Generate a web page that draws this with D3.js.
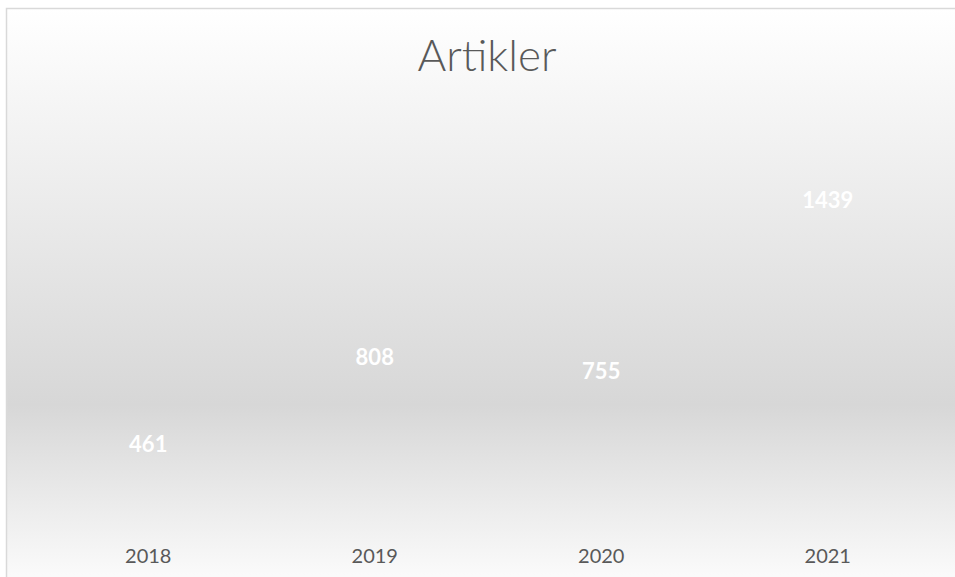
<!DOCTYPE html>
<html>
<head>
<meta charset="utf-8">
<script src="https://cdn.jsdelivr.net/npm/d3@7/dist/d3.min.js"></script>
<style>
  html, body { margin: 0; padding: 0; background: #ffffff; }
  svg { display: block; }
</style>
</head>
<body>
<svg id="chart" width="955" height="577"></svg>
<script>
// Data
const title = "Artikler";
const categories = ["2018", "2019", "2020", "2021"];
const values = [461, 808, 755, 1439];

const W = 955, H = 577;
const svg = d3.select("#chart");

// Background gradient
const defs = svg.append("defs");
const grad = defs.append("linearGradient")
  .attr("id", "bg")
  .attr("gradientUnits", "userSpaceOnUse")
  .attr("x1", 0).attr("y1", 8).attr("x2", 0).attr("y2", 575);
grad.append("stop").attr("offset", 0).attr("stop-color", "#ffffff");
grad.append("stop").attr("offset", 0.70).attr("stop-color", "#d7d7d7");
grad.append("stop").attr("offset", 1).attr("stop-color", "#fafafa");

svg.append("rect")
  .attr("x", 6.5).attr("y", 8.5)
  .attr("width", W + 20).attr("height", H + 20)
  .attr("fill", "url(#bg)")
  .attr("stroke", "#d9d9d9")
  .attr("stroke-width", 1.5);

// Scales
const x = d3.scaleBand().domain(categories).range([35, 941]).padding(0);
const y = d3.scaleLinear().domain([0, 1600]).range([567, 167.8]);

// Title
svg.append("text")
  .attr("x", 487).attr("y", 71)
  .attr("text-anchor", "middle")
  .attr("font-family", "Lato, 'Open Sans', sans-serif")
  .attr("font-weight", 300)
  .attr("font-size", 44)
  .attr("fill", "#595959")
  .text(title);

// Invisible bars (no fill in the reference)
svg.append("g").selectAll("rect")
  .data(values)
  .join("rect")
  .attr("x", (d, i) => x(categories[i]) + x.bandwidth() * 0.25)
  .attr("width", x.bandwidth() * 0.5)
  .attr("y", d => y(d))
  .attr("height", d => y(0) - y(d))
  .attr("fill", "none");

// Data labels
svg.append("g").selectAll("text")
  .data(values)
  .join("text")
  .attr("x", (d, i) => x(categories[i]) + x.bandwidth() / 2)
  .attr("y", d => y(d))
  .attr("text-anchor", "middle")
  .attr("font-family", "Lato, 'Open Sans', sans-serif")
  .attr("font-weight", 700)
  .attr("font-size", 22)
  .attr("fill", "#ffffff")
  .text(d => d);

// Category axis (no line, no ticks)
const xAxis = d3.axisBottom(x).tickSize(0).tickPadding(0);
const gx = svg.append("g").attr("transform", "translate(0,548)").call(xAxis);
gx.select(".domain").remove();
gx.selectAll("text")
  .attr("dy", null)
  .attr("y", 15)
  .attr("font-family", "Lato, 'Open Sans', sans-serif")
  .attr("font-size", 20)
  .attr("fill", "#595959");
</script>
</body>
</html>
